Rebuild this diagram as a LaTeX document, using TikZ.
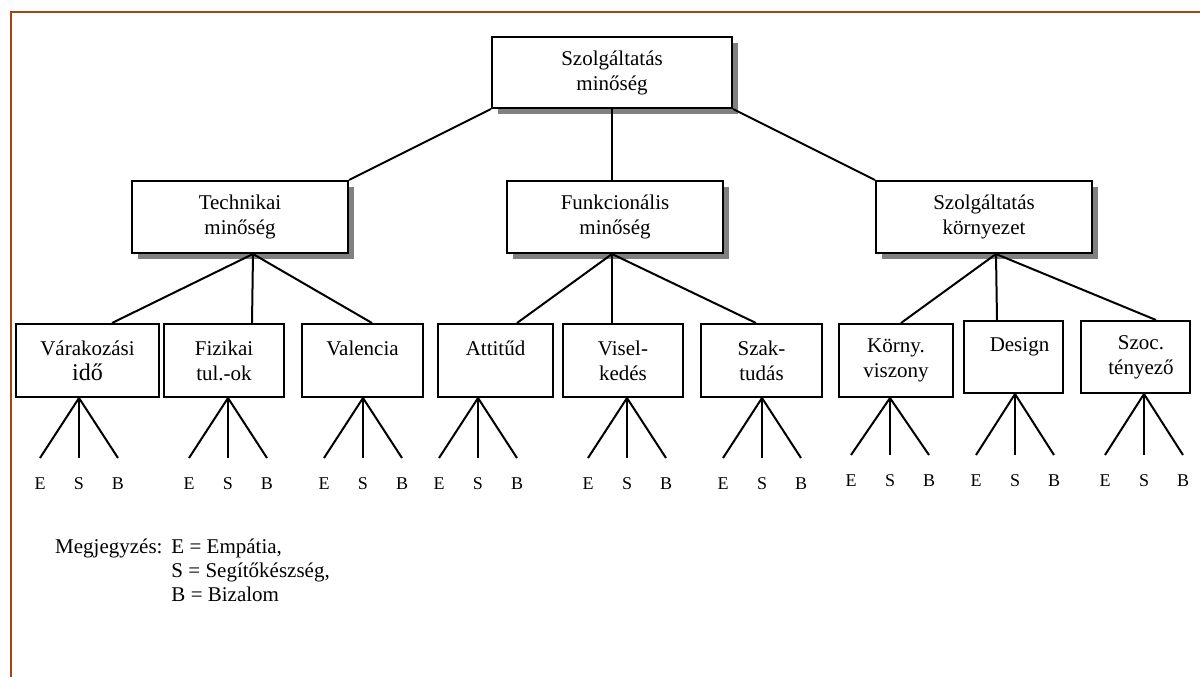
\documentclass[tikz,border=0pt]{standalone}
\usepackage{fontspec}
\setmainfont{Liberation Serif}
\usetikzlibrary{shadows}
\definecolor{framebrown}{RGB}{166,68,20}
\definecolor{shadowgray}{RGB}{128,128,128}

\tikzset{
  conn/.style={line width=2pt},
  boxbase/.style={draw, line width=2pt, fill=white, inner sep=0pt, align=center,
    font=\fontsize{21}{25}\selectfont},
  headbox/.style={boxbase, drop shadow={shadow xshift=6pt, shadow yshift=-6pt,
    fill=shadowgray, opacity=1}},
  leafbox/.style={boxbase},
  esbletter/.style={font=\fontsize{18}{20}\selectfont, anchor=base, inner sep=0pt},
  note/.style={font=\fontsize{21}{24}\selectfont, anchor=base west, inner sep=0pt}
}

% E/S/B fan under a leaf box: #1 leaf, #2 x offset of the hub, #3 fan height
\newcommand\esbfan[3]{%
  \coordinate (#1-hub) at ([xshift=#2pt]#1.south);
  \foreach \d/\t in {-39/E,0/S,39/B}{
    \coordinate (#1-\t) at ([xshift=\d pt, yshift=-#3pt]#1-hub);
    \draw[conn] (#1-hub) -- (#1-\t);
    \node[esbletter] (#1-\t-lbl) at ([yshift=-31pt]#1-\t) {\t};
  }%
}

\begin{document}
\begin{tikzpicture}[x=1pt, y=-1pt]
  \useasboundingbox (0,0) rectangle (1200,677);
  \fill[white] (0,0) rectangle (1200,677);

  % frame
  \draw[framebrown, line width=2pt] (11,700) -- (11,12) -- (1220,12);

  % root
  \node[headbox, minimum width=240pt, minimum height=71pt] (root) at (612,72.5)
    {Szolgáltatás\\minőség};

  % second level
  \node[headbox, minimum width=216pt, minimum height=72pt] (tech) at (240,217)
    {Technikai\\minőség};
  \node[headbox, minimum width=216pt, minimum height=72pt] (func) at (615,217)
    {Funkcionális\\minőség};
  \node[headbox, minimum width=216pt, minimum height=72pt] (env) at (984,217)
    {Szolgáltatás\\környezet};

  % leaves
  \node[leafbox, minimum width=143pt, minimum height=73pt] (vara) at (87.5,360.5)
    {Várakozási\\{\fontsize{24}{25}\selectfont idő}};
  \node[leafbox, minimum width=120pt, minimum height=73pt] (fiz) at (224,360.5)
    {Fizikai\\tul.-ok};
  \node[leafbox, minimum width=121pt, minimum height=73pt] (val) at (362.5,360.5)
    {Valencia\\\mbox{}};
  \node[leafbox, minimum width=115pt, minimum height=73pt] (att) at (495.5,360.5)
    {Attitűd\\\mbox{}};
  \node[leafbox, minimum width=120pt, minimum height=73pt] (vis) at (623,360.5)
    {Visel-\\kedés};
  \node[leafbox, minimum width=121pt, minimum height=73pt] (szak) at (761.5,360.5)
    {Szak-\\tudás};
  \node[leafbox, minimum width=114pt, minimum height=73pt] (korny) at (896,360.5)
    {Körny.\\viszony};
  \node[leafbox, minimum width=99pt, minimum height=72pt] (design) at (1013.5,357)
    {\hspace*{12pt}Design\\\mbox{}};
  \node[leafbox, minimum width=109pt, minimum height=72pt] (szoc) at (1135.5,357)
    {\hspace*{11pt}Szoc.\\\hspace*{11pt}tényező};

  % root to second level
  \draw[conn] (root.south west) -- (tech.north east);
  \draw[conn] (root.south) -- (root.south |- func.north);
  \draw[conn] (root.south east) -- (env.north west);

  % second level to leaves
  \coordinate (tech-hub) at ([xshift=13pt]tech.south);
  \coordinate (vara-top) at ([xshift=24.5pt]vara.north);
  \coordinate (fiz-top) at ([xshift=28pt]fiz.north);
  \coordinate (val-top) at ([xshift=9.5pt]val.north);
  \draw[conn] (tech-hub) -- (vara-top);
  \draw[conn] (tech-hub) -- (fiz-top);
  \draw[conn] (tech-hub) -- (val-top);

  \coordinate (func-hub) at ([xshift=-3pt]func.south);
  \coordinate (att-top) at ([xshift=21.5pt]att.north);
  \coordinate (vis-top) at ([xshift=-11pt]vis.north);
  \coordinate (szak-top) at ([xshift=-5.5pt]szak.north);
  \draw[conn] (func-hub) -- (att-top);
  \draw[conn] (func-hub) -- (vis-top);
  \draw[conn] (func-hub) -- (szak-top);

  \coordinate (env-hub) at ([xshift=12pt]env.south);
  \coordinate (korny-top) at ([xshift=5pt]korny.north);
  \coordinate (design-top) at ([xshift=-16.5pt]design.north);
  \coordinate (szoc-top) at ([xshift=20.5pt]szoc.north);
  \draw[conn] (env-hub) -- (korny-top);
  \draw[conn] (env-hub) -- (design-top);
  \draw[conn] (env-hub) -- (szoc-top);

  % E / S / B fans
  \esbfan{vara}{-8.5}{60}
  \esbfan{fiz}{4}{60}
  \esbfan{val}{0.5}{60}
  \esbfan{att}{-17.5}{60}
  \esbfan{vis}{4}{60}
  \esbfan{szak}{0.5}{60}
  \esbfan{korny}{-6}{57}
  \esbfan{design}{1.5}{61}
  \esbfan{szoc}{8.5}{61}

  % legend
  \node[note] (legend) at (55,553)
    {\begin{tabular}[t]{@{}l@{\hspace{9pt}}l@{}}
       Megjegyzés: & E = Empátia,\\
                   & S = Segítőkészség,\\
                   & B = Bizalom
     \end{tabular}};
\end{tikzpicture}
\end{document}
